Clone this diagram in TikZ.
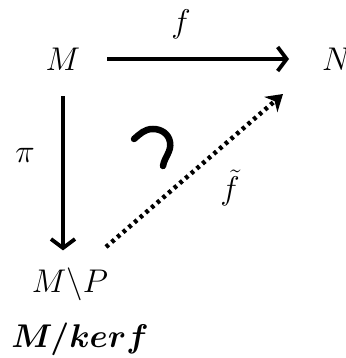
\documentclass[tikz,border=0pt]{standalone}
\usetikzlibrary{arrows.meta}
\newcommand{\biglbl}[1]{\scalebox{1.9}{\LARGE #1}}
\begin{document}
\begin{tikzpicture}[x=1pt,y=-1pt,
  lbl/.style={inner sep=0pt},
  mapar/.style={line width=3.8pt,-{Straight Barb[length=9pt,width=24pt,line width=3.8pt]}},
  dotar/.style={line width=4.5pt,dash pattern=on 3.5pt off 4pt,-{Stealth[length=16pt,width=20pt,inset=5pt]}}]
\useasboundingbox (0,0) rectangle (345,358);
\node[lbl] (M) at (63,59) {\biglbl{$M$}};
\node[lbl,anchor=west] (N) at (322,59) {\biglbl{$N$}};
\node[lbl] (f) at (181,24) {\biglbl{$f$}};
\node[lbl] (pi) at (25,155) {\biglbl{$\pi$}};
\node[lbl] (MP) at (70,284) {\biglbl{$M\backslash P$}};
\node[lbl] (Mk) at (80,339) {\biglbl{\boldmath$M/kerf$}};
\node[lbl] (ft) at (230,188) {\biglbl{$\tilde f$}};
\coordinate (d1) at (106,247);
\coordinate (d2) at (283,94);
\draw[mapar,shorten <=27pt,shorten >=33pt] (M.east) -- (N.west);
\draw[mapar,shorten <=26pt,shorten >=17pt] (M.south) -- (M.south |- MP.north);
\draw[dotar] (d1) -- (d2);
\draw[line width=6.5pt,line cap=round] (134,139) to[out=40,in=180] (153,129) to[out=0,in=100] (170,142) to[out=-80,in=80] (163,166);
\end{tikzpicture}
\end{document}
